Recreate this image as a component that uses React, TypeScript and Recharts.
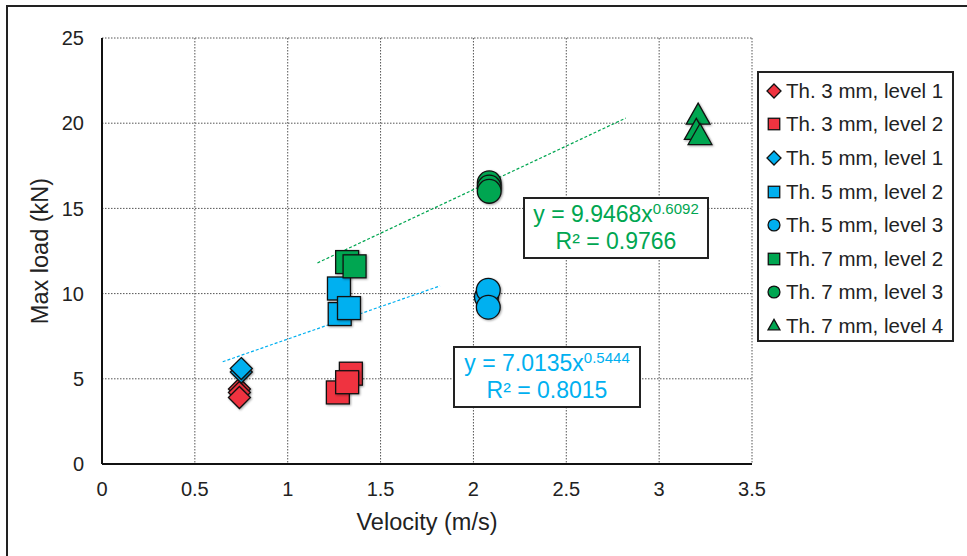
import { ScatterChart, Scatter, XAxis, YAxis, CartesianGrid } from "recharts";

const RED = "#ef3340";
const BLUE = "#00b0f0";
const GREEN = "#00a651";
const FONT = "'Liberation Sans', Arial, sans-serif";

// velocity (m/s), max load (kN)
const th3Level1 = [
  { x: 0.74, y: 4.4 },
  { x: 0.74, y: 4.2 },
  { x: 0.74, y: 3.9 },
];
const th3Level2 = [
  { x: 1.27, y: 4.2 },
  { x: 1.34, y: 5.3 },
  { x: 1.32, y: 4.8 },
];
const th5Level1 = [
  { x: 0.75, y: 5.4 },
  { x: 0.75, y: 5.6 },
];
const th5Level2 = [
  { x: 1.28, y: 8.8 },
  { x: 1.276, y: 10.3 },
  { x: 1.33, y: 9.15 },
];
const th5Level3 = [
  { x: 2.07, y: 9.8 },
  { x: 2.08, y: 10.2 },
  { x: 2.08, y: 9.2 },
];
const th7Level2 = [
  { x: 1.32, y: 11.85 },
  { x: 1.36, y: 11.6 },
];
const th7Level3 = [
  { x: 2.085, y: 16.5 },
  { x: 2.085, y: 16.25 },
  { x: 2.085, y: 16.0 },
];
const th7Level4 = [
  { x: 3.21, y: 20.4 },
  { x: 3.2, y: 19.5 },
  { x: 3.22, y: 19.2 },
];

// power trend lines as drawn
const trend5 = [
  { x: 0.65, y: 6.0 },
  { x: 1.82, y: 10.45 },
];
const trend7 = [
  { x: 1.16, y: 11.8 },
  { x: 2.82, y: 20.3 },
];

const xTicks = [0, 0.5, 1, 1.5, 2, 2.5, 3, 3.5];
const yTicks = [0, 5, 10, 15, 20, 25];

type Kind = "diamond" | "square" | "circle" | "triangle";

const series: { name: string; data: { x: number; y: number }[]; color: string; kind: Kind }[] = [
  { name: "Th. 3 mm, level 1", data: th3Level1, color: RED, kind: "diamond" },
  { name: "Th. 3 mm, level 2", data: th3Level2, color: RED, kind: "square" },
  { name: "Th. 5 mm, level 1", data: th5Level1, color: BLUE, kind: "diamond" },
  { name: "Th. 5 mm, level 2", data: th5Level2, color: BLUE, kind: "square" },
  { name: "Th. 5 mm, level 3", data: th5Level3, color: BLUE, kind: "circle" },
  { name: "Th. 7 mm, level 2", data: th7Level2, color: GREEN, kind: "square" },
  { name: "Th. 7 mm, level 3", data: th7Level3, color: GREEN, kind: "circle" },
  { name: "Th. 7 mm, level 4", data: th7Level4, color: GREEN, kind: "triangle" },
];

function Marker({ cx, cy, kind, color, r }: { cx: number; cy: number; kind: Kind; color: string; r: number }) {
  const common = { fill: color, stroke: "#111", strokeWidth: 1.3 };
  if (kind === "diamond")
    return <polygon points={`${cx},${cy - r} ${cx + r},${cy} ${cx},${cy + r} ${cx - r},${cy}`} {...common} />;
  if (kind === "square")
    return <rect x={cx - r * 0.82} y={cy - r * 0.82} width={r * 1.64} height={r * 1.64} {...common} />;
  if (kind === "circle") return <circle cx={cx} cy={cy} r={r * 0.85} {...common} />;
  return (
    <polygon
      points={`${cx},${cy - r * 0.95} ${cx + r * 0.85},${cy + r * 0.55} ${cx - r * 0.85},${cy + r * 0.55}`}
      {...common}
    />
  );
}

function LegendBox() {
  return (
    <div
      style={{
        position: "absolute",
        left: 757,
        top: 71,
        width: 197,
        height: 271,
        border: "2px solid #222",
        background: "#fff",
        fontFamily: FONT,
        fontSize: 20.5,
        color: "#222",
        paddingTop: 1,
        boxSizing: "border-box",
      }}
    >
      {series.map((s) => (
        <div key={s.name} style={{ display: "flex", alignItems: "center", height: 33.6, whiteSpace: "nowrap" }}>
          <svg width={24} height={20} style={{ marginLeft: 3 }}>
            <Marker cx={12} cy={10} kind={s.kind} color={s.color} r={7} />
          </svg>
          <span>{s.name}</span>
        </div>
      ))}
    </div>
  );
}

function Equation({ left, top, width, color, coef, exp, r2 }: any) {
  return (
    <div
      style={{
        position: "absolute",
        left,
        top,
        width,
        height: 62,
        border: "2px solid #222",
        background: "#fff",
        boxSizing: "border-box",
        color,
        fontFamily: FONT,
        fontSize: 23,
        textAlign: "center",
        lineHeight: "27px",
        paddingTop: 2,
        whiteSpace: "nowrap",
      }}
    >
      <div>
        y = {coef}x<sup style={{ fontSize: 15, verticalAlign: "top", lineHeight: "16px" }}>{exp}</sup>
      </div>
      <div>R² = {r2}</div>
    </div>
  );
}

export default function App() {
  return (
    <div style={{ position: "absolute", left: 0, top: 0, width: 967, height: 556, background: "#fff" }}>
      <div
        style={{
          position: "absolute",
          left: 6,
          top: 5,
          width: 961,
          height: 551,
          borderTop: "2px solid #222",
          borderLeft: "2px solid #222",
        }}
      />
      <ScatterChart
        width={967}
        height={556}
        margin={{ top: 38, right: 215, bottom: 62, left: 42 }}
        style={{ position: "absolute", left: 0, top: 0 }}
      >
        <CartesianGrid stroke="#555" strokeDasharray="1.5 1.5" />
        <XAxis
          type="number"
          dataKey="x"
          domain={[0, 3.5]}
          ticks={xTicks}
          tickFormatter={(v) => String(v)}
          height={30}
          axisLine={{ stroke: "#111", strokeWidth: 2 }}
          tickLine={false}
          tickMargin={12}
          tick={{ fill: "#222", fontSize: 20, fontFamily: FONT }}
          label={{
            content: () => (
              <text x={427} y={530} textAnchor="middle" fill="#222" fontSize={23.5} fontFamily={FONT}>
                Velocity (m/s)
              </text>
            ),
          }}
        />
        <YAxis
          type="number"
          dataKey="y"
          domain={[0, 25]}
          ticks={yTicks}
          width={60}
          axisLine={{ stroke: "#111", strokeWidth: 2 }}
          tickLine={false}
          tickMargin={12}
          tick={{ fill: "#222", fontSize: 20, fontFamily: FONT }}
          label={{
            content: () => (
              <text
                x={48}
                y={251}
                transform="rotate(-90, 48, 251)"
                textAnchor="middle"
                fill="#222"
                fontSize={23.5}
                fontFamily={FONT}
              >
                Max load (kN)
              </text>
            ),
          }}
        />
        <Scatter
          data={trend5}
          line={{ stroke: BLUE, strokeWidth: 1.2, strokeDasharray: "3 2" }}
          shape={() => <g />}
          legendType="none"
          isAnimationActive={false}
        />
        <Scatter
          data={trend7}
          line={{ stroke: GREEN, strokeWidth: 1.2, strokeDasharray: "3 2" }}
          shape={() => <g />}
          legendType="none"
          isAnimationActive={false}
        />
        {series.map((s) => (
          <Scatter
            key={s.name}
            name={s.name}
            data={s.data}
            fill={s.color}
            isAnimationActive={false}
            shape={(p: any) => (
              <g style={{ filter: "drop-shadow(1px 1px 1px rgba(0,0,0,0.35))" }}>
                <Marker cx={p.cx} cy={p.cy} kind={s.kind} color={s.color} r={s.kind === "diamond" ? 11 : 14} />
              </g>
            )}
          />
        ))}
      </ScatterChart>
      <LegendBox />
      <Equation left={523} top={197} width={186} color={GREEN} coef="9.9468" exp="0.6092" r2="0.9766" />
      <Equation left={453} top={346} width={188} color={BLUE} coef="7.0135" exp="0.5444" r2="0.8015" />
    </div>
  );
}
